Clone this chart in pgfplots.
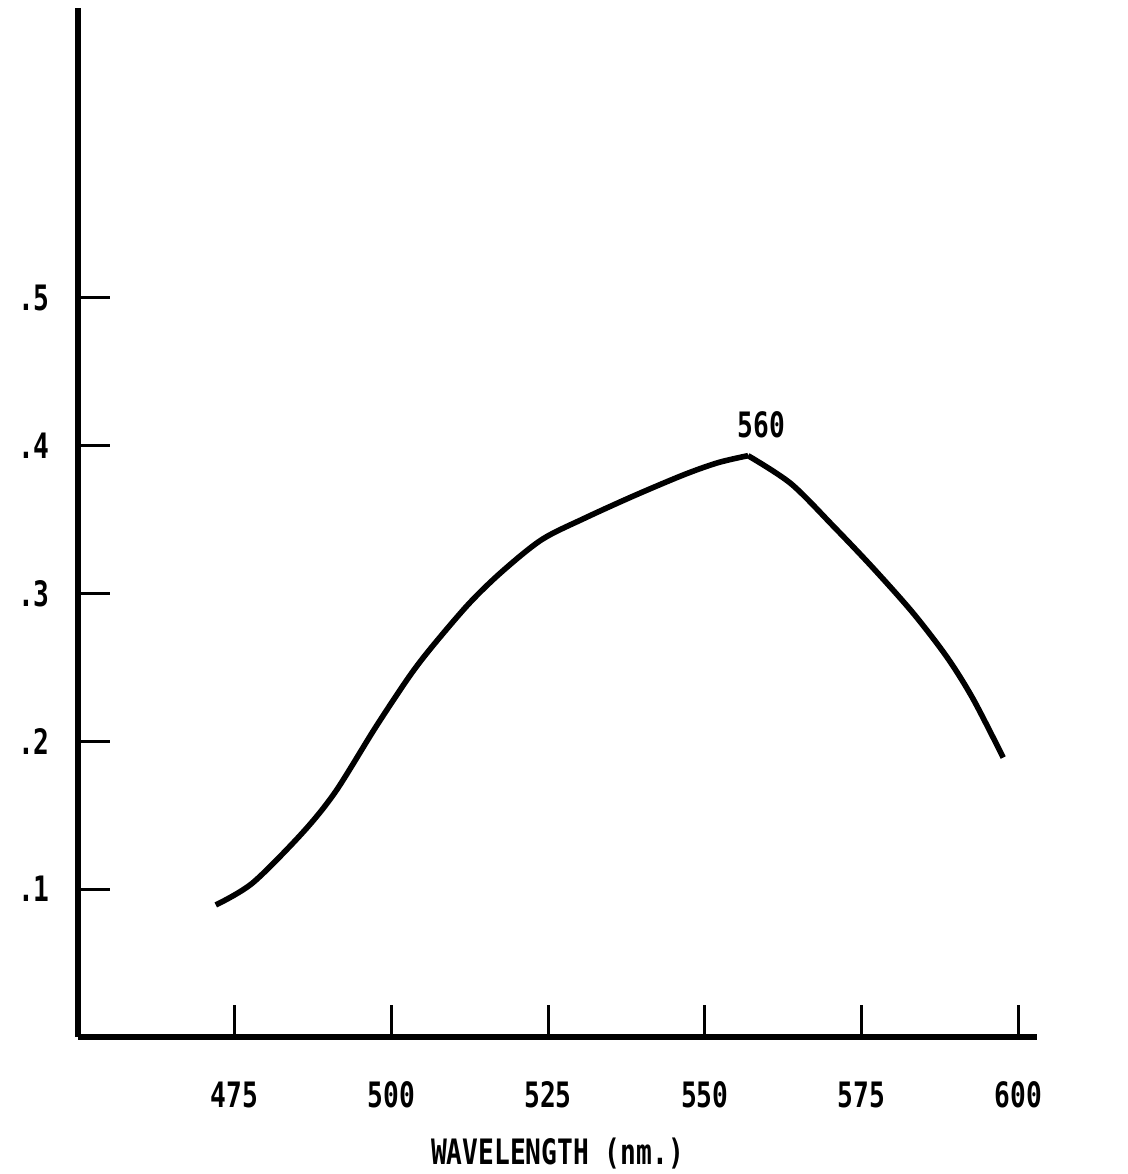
\documentclass[border=0pt]{standalone}
\usepackage{fontspec}
\setmainfont{DejaVu Sans Mono}[FakeStretch=0.75]
\usepackage{pgfplots}
\pgfplotsset{compat=1.18}
\begin{document}
\begin{tikzpicture}
\path[use as bounding box] (-39pt,-68.5pt) rectangle (525pt,518.5pt);
\begin{axis}[
  at={(0pt,0pt)}, anchor=south west,
  scale only axis, width=479.5pt, height=514.5pt,
  xmin=450, xmax=603, ymin=0, ymax=0.696,
  axis x line=bottom, axis y line=left,
  axis line style={-, line width=2.8pt},
  xtick={475,500,525,550,575,600},
  ytick={0.1,0.2,0.3,0.4,0.5},
  yticklabels={.1,.2,.3,.4,.5},
  xticklabels={475,500,525,550,575,600},
  tick align=inside,
  major tick length=16pt,
  tick style={line width=1.5pt, black},
  yticklabel style={anchor=center, xshift=-22pt, font=\fontsize{17.5}{19}\selectfont\bfseries},
  xticklabel style={anchor=center, yshift=-29pt, font=\fontsize{17.5}{19}\selectfont\bfseries},
  clip=false,
]
\addplot[black, line width=2.8pt, smooth, tension=0.5] coordinates {
(471.98,0.0893) (477.86,0.1042) (485.81,0.1381) (491.06,0.1658) (497.42,0.2091)
(502.83,0.2437) (506.49,0.2640) (512.37,0.2931) (517.62,0.3147) (523.98,0.3364)
(530.82,0.3509) (538.77,0.3662) (546.72,0.3804) (552.13,0.3885) (556.90,0.3932)
};
\addplot[black, line width=2.8pt, smooth, tension=0.5] coordinates {
(556.90,0.3932) (563.74,0.3743) (570.58,0.3452) (576.94,0.3168) (583.30,0.2864)
(588.71,0.2565) (592.84,0.2284) (597.61,0.1890)
};
\node[font=\fontsize{17.5}{19}\selectfont\bfseries] at (axis cs:559,0.414) {560};
\node[font=\fontsize{17.5}{19}\selectfont\bfseries] at (rel axis cs:0.5,0) [yshift=-58.5pt] {WAVELENGTH (nm.)};
\end{axis}
\end{tikzpicture}
\end{document}
